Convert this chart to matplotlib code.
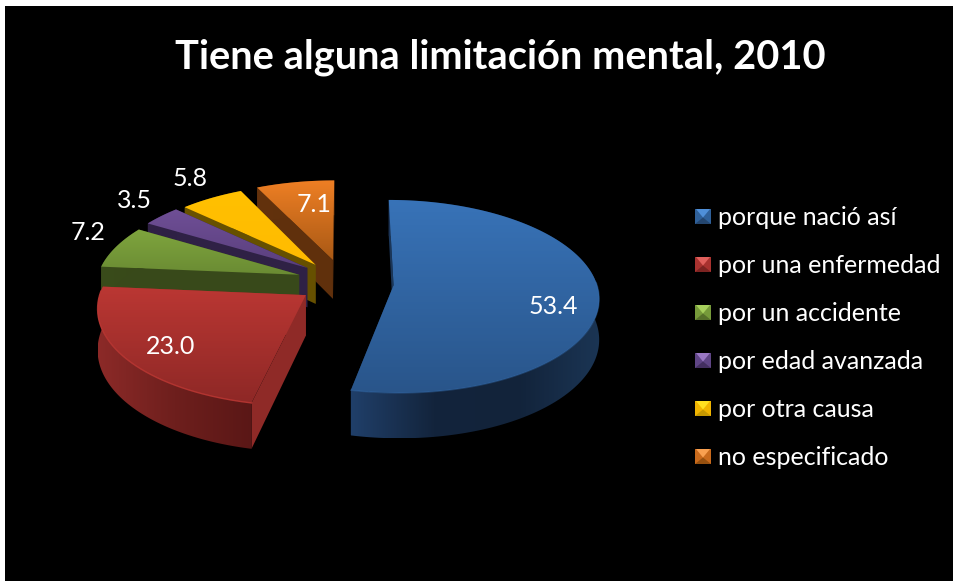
import numpy as np
import matplotlib
matplotlib.use('Agg')
import matplotlib.pyplot as plt
from matplotlib.colors import LinearSegmentedColormap
from matplotlib.patches import Polygon, Rectangle

plt.rcParams['font.family'] = ['Lato', 'DejaVu Sans']

titulo = 'Tiene alguna limitación mental, 2010'
categorias = ['porque nació así', 'por una enfermedad', 'por un accidente',
              'por edad avanzada', 'por otra causa', 'no especificado']
valores = [53.4, 23.0, 7.2, 3.5, 5.8, 7.1]

# style per slice
explode = [0.23, 0.23, 0.25, 0.25, 0.27, 0.30]
nudge = [(0, -2), (-3, -3), (0, -3), (0, -3), (0, 0), (-1, 2)]
top_col = [('#3873b8', '#29558a'), ('#bb3733', '#8e2826'), ('#7fa53e', '#6a8b33'),
           ('#6f4f96', '#5a3f7d'), ('#ffc000', '#ffbb00'), ('#ee7f24', '#a95915')]
wall_col = [('#203f69', '#13243c', '#12233a', '#1b3554'), ('#8c2a28', '#6e1f1d', '#5a1716'),
            ('#3a4c1b', '#384919'), ('#302146', '#2e2044'), ('#6a5300', '#665000'),
            ('#63320d', '#5e2f0c')]
cut_col = ['#1b3658', '#8f2a27', '#38491a', '#2f2145', '#665000', '#60300c']
rim_alpha = [0.35, 0.9, 0.3, 0.3, 0.3, 0.3]
legend_top = ['#4f8fd8', '#e0605c', '#a6cf5c', '#9a78c4', '#ffe020', '#f9a050']
legend_mid = ['#2f6099', '#a8322f', '#769a3a', '#5f4585', '#f0b400', '#c96a1c']
legend_low = ['#24466f', '#7c2321', '#56702a', '#432f60', '#c69800', '#96500f']
label_xy = [(553, 306), (171, 346), (88, 233), (134, 200), (190, 178), (314, 205)]

# picture layout (pixels)
cx, cy = 347, 285
rx, ry, persp = 203, 94.7, 0.115
depth = 40


def proj(X, Y, down=0):
    d = 1 + persp * Y
    return cx + rx * X / d, cy - ry * Y / d + down / d


def fill_grad(ax, xs, ys, colors, z, horizontal=False):
    xs, ys = np.asarray(xs), np.asarray(ys)
    cmap = LinearSegmentedColormap.from_list('g', colors)
    g = np.linspace(0, 1, 256)
    g = g.reshape(1, -1) if horizontal else g.reshape(-1, 1)
    im = ax.imshow(g, cmap=cmap, vmin=0, vmax=1, aspect='auto', origin='upper', zorder=z,
                   extent=(xs.min(), xs.max(), ys.max(), ys.min()))
    p = Polygon(np.column_stack([xs, ys]), closed=True, transform=ax.transData)
    im.set_clip_path(p)


fig = plt.figure(figsize=(9.54, 5.81), dpi=100, facecolor='white')
ax = fig.add_axes([0, 0, 1, 1])
ax.add_patch(Rectangle((5, 6), 960, 590, fc='black', ec='none', zorder=0))

total = sum(valores)
ang = 90.0
tramos = []
for v in valores:
    tramos.append((ang, ang - v / total * 360))
    ang = ang - v / total * 360

z = 1
# back to front: orange first, red after green, blue last
for i in [5, 4, 3, 2, 1, 0]:
    a0, a1 = np.radians(tramos[i][0]), np.radians(tramos[i][1])
    mid = (a0 + a1) / 2
    ox, oy = explode[i] * np.cos(mid), explode[i] * np.sin(mid)
    t = np.linspace(a0, a1, 160)
    X, Y = ox + np.cos(t), oy + np.sin(t)
    nx, ny = nudge[i]
    tx, ty = proj(X, Y)
    bx, by = proj(X, Y, depth)
    apx, apy = proj(ox, oy)
    apbx, apby = proj(ox, oy, depth)
    tx, bx, apx, apbx = tx + nx, bx + nx, apx + nx, apbx + nx
    ty, by, apy, apby = ty + ny, by + ny, apy + ny, apby + ny

    # cut faces
    ax.add_patch(Polygon([(apx, apy), (tx[0], ty[0]), (bx[0], by[0]), (apbx, apby)],
                         fc=cut_col[i], ec='none', zorder=z))
    ax.add_patch(Polygon([(apx, apy), (tx[-1], ty[-1]), (bx[-1], by[-1]), (apbx, apby)],
                         fc=cut_col[i], ec='none', zorder=z))
    z += 1
    # rim wall
    fill_grad(ax, np.r_[tx, bx[::-1]], np.r_[ty, by[::-1]], list(wall_col[i]), z, horizontal=True)
    z += 1
    # top face
    fill_grad(ax, np.r_[apx, tx], np.r_[apy, ty], top_col[i], z)
    z += 1
    # light rim on the front edge
    front = np.sin(t) < 0.05
    if front.any():
        ax.plot(tx[front], ty[front], color=top_col[i][0], lw=1.0, alpha=rim_alpha[i], zorder=z)
        z += 1

for i, (x, y) in enumerate(label_xy):
    ax.text(x, y, f'{valores[i]:.1f}', color='white', fontsize=18, ha='center', va='center', zorder=z)

ax.text(500, 57, titulo, color='white', fontsize=28.7, fontweight='bold', ha='center', va='center', zorder=z)

# legend
for i, nombre in enumerate(categorias):
    yc = 216.5 + 48 * i
    x0, x1, y0, y1 = 695, 711, yc - 7.5, yc + 7.5
    xm, ym = (x0 + x1) / 2, yc
    ax.add_patch(Rectangle((x0, y0), x1 - x0, y1 - y0, fc=legend_mid[i], ec='none', zorder=z))
    ax.add_patch(Polygon([(x0 + 1, y0), (x1 - 1, y0), (xm, ym + 1)], fc=legend_top[i], ec='none', zorder=z + 1))
    ax.add_patch(Polygon([(x0, y1), (x1, y1), (xm, ym + 1)], fc=legend_low[i], ec='none', zorder=z + 1))
    ax.text(718, yc + 1, nombre, color='white', fontsize=18, ha='left', va='center', zorder=z)

ax.set_xlim(0, 954)
ax.set_ylim(581, 0)
ax.axis('off')
fig.savefig('out.png', dpi=100, facecolor='white')
